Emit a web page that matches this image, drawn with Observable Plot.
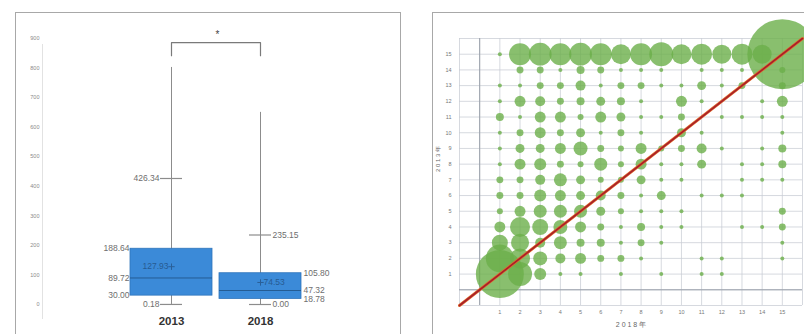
<!DOCTYPE html>
<html>
<head>
<meta charset="utf-8">
<script src="https://cdn.jsdelivr.net/npm/d3@7"></script>
<script src="https://cdn.jsdelivr.net/npm/@observablehq/plot@0.6"></script>
<style>
  html, body { margin: 0; padding: 0; background: #fff; }
  #wrap { position: relative; width: 804px; height: 334px; overflow: hidden; font-family: "Liberation Sans", Arial, sans-serif; }
  .frame { position: absolute; border: 1px solid #a8a8a8; box-sizing: border-box; }
  #left, #right { position: absolute; top: 0; }
  #left { left: 0; }
  #right { left: 432px; }
</style>
</head>
<body>
<div id="wrap">
  <div class="frame" style="left:15px; top:12px; width:386px; height:340px;"></div>
  <div class="frame" style="left:432px; top:12px; width:390px; height:340px;"></div>
  <div id="left"></div>
  <div id="right"></div>
</div>
<script>
// ---------- Left panel: box plot ----------
const years = ["2013", "2018"];
const minVal = [0.18, 0.00];
const q1Val = [30.00, 18.78];
const medianVal = [89.72, 47.32];
const q3Val = [188.64, 105.80];
const capVal = [426.34, 235.15];
const maxVal = [802, 650];
const meanVal = [127.93, 74.53];
const boxTicks = [0, 100, 200, 300, 400, 500, 600, 700, 800, 900];
const sigBracket = [842, 886];
const sigLabel = "*";

const boxes = years.map((y, i) => ({
  year: y, min: minVal[i], q1: q1Val[i], median: medianVal[i], q3: q3Val[i],
  cap: capVal[i], max: maxVal[i], mean: meanVal[i]
}));
const fmt = v => v.toFixed(2);

const capLabels = [], boxLabels = [];
boxes.forEach((b) => {
  capLabels.push({year: b.year, v: b.cap});
  capLabels.push({year: b.year, v: b.min});
  boxLabels.push({year: b.year, v: b.q3});
  boxLabels.push({year: b.year, v: b.median});
  boxLabels.push({year: b.year, v: b.q1});
});
const isFirst = d => d.year === years[0];
const isSecond = d => d.year === years[1];

const bracket = [
  {year: years[0], v: sigBracket[0]},
  {year: years[0], v: sigBracket[1]},
  {year: years[1], v: sigBracket[1]},
  {year: years[1], v: sigBracket[0]}
];

const lblStyle = {x: "year", y: "v", text: d => fmt(d.v), fontSize: 8.5, fill: "#6e6e6e"};

const leftPlot = Plot.plot({
  width: 400,
  height: 334,
  marginTop: 38,
  marginBottom: 30,
  marginLeft: 42,
  marginRight: 0,
  style: {background: "transparent", fontFamily: "Liberation Sans, Arial, sans-serif"},
  x: {type: "band", domain: years, range: [129.5, 302], paddingInner: 0.08, paddingOuter: 0, label: null},
  y: {domain: [0, 900], label: null},
  marks: [
    Plot.frame({anchor: "left", stroke: "#e2e2e2", insetTop: 6, insetBottom: -14}),
    Plot.axisY({ticks: boxTicks, tickSize: 0, tickPadding: 3, fontSize: 5.5, fill: "#8a8a8a", label: null}),
    Plot.axisX({tickSize: 0, tickPadding: 12, fontSize: 11.5, fill: "#333", fontWeight: "bold", label: null}),
    // whiskers
    Plot.ruleX(boxes, {x: "year", y1: "min", y2: "max", stroke: "#8c8c8c", strokeWidth: 1}),
    // boxes
    Plot.barY(boxes, {x: "year", y1: "q1", y2: "q3", fill: "#3b8ad8", stroke: "#2f74bb", strokeWidth: 0.8}),
    // median
    Plot.tickY(boxes, {x: "year", y: "median", stroke: "#245c94", strokeWidth: 1}),
    // caps
    Plot.tickY(boxes, {x: "year", y: "cap", stroke: "#8c8c8c", strokeWidth: 1.2, insetLeft: 30, insetRight: 30}),
    Plot.tickY(boxes, {x: "year", y: "min", stroke: "#8c8c8c", strokeWidth: 1.2, insetLeft: 30, insetRight: 30}),
    // mean markers
    Plot.dot(boxes, {x: "year", y: "mean", symbol: "plus", r: 2.2, stroke: "#2a5f98", strokeWidth: 1}),
    Plot.text(boxes.filter(isFirst), {x: "year", y: "mean", text: d => fmt(d.mean), textAnchor: "end", dx: -3, fontSize: 8.5, fill: "#275b92"}),
    Plot.text(boxes.filter(isSecond), {x: "year", y: "mean", text: d => fmt(d.mean), textAnchor: "start", dx: 3, fontSize: 8.5, fill: "#275b92"}),
    // side labels
    Plot.text(capLabels.filter(isFirst), {...lblStyle, textAnchor: "end", dx: -12}),
    Plot.text(boxLabels.filter(isFirst), {...lblStyle, textAnchor: "end", dx: -42}),
    Plot.text(capLabels.filter(isSecond), {...lblStyle, textAnchor: "start", dx: 12}),
    Plot.text(boxLabels.filter(isSecond), {...lblStyle, textAnchor: "start", dx: 43}),
    // significance bracket
    Plot.line(bracket, {x: "year", y: "v", stroke: "#7a7a7a", strokeWidth: 1.2}),
    Plot.text([sigLabel], {x: () => years[0], y: () => sigBracket[1], text: d => d, dx: 46, dy: -8, fontSize: 10, fill: "#444"})
  ]
});
document.getElementById("left").append(leftPlot);

// ---------- Right panel: bubble chart ----------
const axisTicks = [1, 2, 3, 4, 5, 6, 7, 8, 9, 10, 11, 12, 13, 14, 15];
const gridLines = [-1, 0, 1, 2, 3, 4, 5, 6, 7, 8, 9, 10, 11, 12, 13, 14, 15, 16];
const diagonal = [-1, 16];
const xTitle = "2 0 1 8 年";
const yTitle = "2 0 1 3 年";
// counts; rows are y = 15 (first) down to y = 1 (last); columns x = 1..15
const rowY = [15, 14, 13, 12, 11, 10, 9, 8, 7, 6, 5, 4, 3, 2, 1];
const counts = [
  [4, 121, 130, 121, 130, 121, 100, 121, 144, 100, 110, 90, 110, 90, 1225],
  [0, 12, 12, 4, 16, 12, 4, 4, 4, 0, 4, 4, 4, 0, 9],
  [4, 4, 12, 12, 25, 4, 12, 12, 4, 4, 20, 4, 12, 0, 12],
  [4, 30, 25, 12, 16, 20, 16, 4, 0, 30, 4, 0, 0, 4, 30],
  [16, 4, 30, 30, 9, 30, 20, 4, 4, 12, 0, 4, 4, 4, 4],
  [4, 12, 30, 12, 20, 4, 12, 4, 0, 20, 4, 0, 0, 0, 4],
  [4, 20, 20, 30, 49, 12, 9, 30, 9, 12, 25, 4, 0, 4, 16],
  [4, 30, 36, 12, 9, 42, 9, 30, 4, 4, 20, 0, 4, 4, 16],
  [12, 12, 25, 42, 20, 9, 9, 20, 4, 4, 0, 0, 4, 4, 4],
  [12, 12, 36, 30, 20, 25, 12, 4, 20, 0, 4, 4, 4, 0, 0],
  [9, 30, 42, 42, 42, 20, 9, 4, 4, 4, 0, 0, 0, 0, 12],
  [30, 100, 64, 49, 30, 12, 4, 16, 4, 4, 0, 0, 4, 4, 12],
  [64, 81, 25, 42, 16, 16, 4, 12, 4, 0, 0, 0, 0, 0, 4],
  [196, 100, 49, 25, 30, 12, 12, 4, 0, 0, 4, 4, 0, 0, 4],
  [576, 144, 36, 4, 4, 0, 4, 0, 4, 0, 4, 4, 0, 0, 0]
];
const bubbles = [];
counts.forEach((row, ri) => row.forEach((c, ci) => {
  if (c > 0) bubbles.push({x: axisTicks[ci], y: rowY[ri], n: c});
}));

const rightPlot = Plot.plot({
  width: 372,
  height: 334,
  marginTop: 38,
  marginBottom: 29,
  marginLeft: 27,
  marginRight: 2,
  style: {background: "transparent", fontFamily: "Liberation Sans, Arial, sans-serif"},
  x: {domain: [-1, 16], label: null},
  y: {domain: [-1, 16], label: null},
  r: {type: "sqrt", domain: [0, 1225], range: [0, 35]},
  marks: [
    Plot.gridX({ticks: gridLines, stroke: "#c8ccd4", strokeOpacity: 0.75}),
    Plot.gridY({ticks: gridLines, stroke: "#c8ccd4", strokeOpacity: 0.75}),
    Plot.ruleX([0], {stroke: "#9aa0aa", strokeWidth: 1}),
    Plot.ruleY([0], {stroke: "#9aa0aa", strokeWidth: 1}),
    Plot.axisX({ticks: axisTicks, tickSize: 0, tickPadding: 5, fontSize: 5.5, fill: "#777", label: null}),
    Plot.axisY({ticks: axisTicks, tickSize: 0, tickPadding: 8, fontSize: 5.5, fill: "#777", label: null}),
    Plot.dot(bubbles, {x: "x", y: "y", r: "n", fill: "#6caf4a", fillOpacity: 0.8, stroke: "none"}),
    Plot.line(diagonal, {x: d => d, y: d => d, stroke: "#e06a2a", strokeWidth: 3}),
    Plot.line(diagonal, {x: d => d, y: d => d, stroke: "#a8202a", strokeWidth: 1.6}),
    Plot.text([xTitle], {frameAnchor: "bottom", text: d => d, dy: 21, fontSize: 7, fill: "#666"}),
    Plot.text([yTitle], {frameAnchor: "left", text: d => d, dx: -21, rotate: -90, fontSize: 6, fill: "#666"})
  ]
});
document.getElementById("right").append(rightPlot);
</script>
</body>
</html>
